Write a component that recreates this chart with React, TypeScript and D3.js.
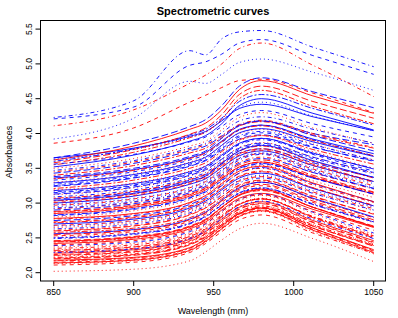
import * as d3 from 'd3';

const wavelengths = [850, 900, 935, 945, 955, 966, 980, 1012, 1050];

const xTicks = [850, 900, 950, 1000, 1050];
const yTicks = [2.0, 2.5, 3.0, 3.5, 4.0, 4.5, 5.0, 5.5];

// absorbance curves, one row per sample
const absorbance: number[][] = [
  [3.65, 3.79, 3.96, 4.03, 4.18, 4.36, 4.42, 4.24, 4.04],
  [4.21, 4.38, 4.98, 5.03, 5.14, 5.30, 5.35, 5.12, 4.85],
  [2.02, 2.05, 2.17, 2.30, 2.47, 2.63, 2.71, 2.49, 2.16],
  [4.23, 4.47, 5.19, 5.13, 5.36, 5.46, 5.48, 5.24, 4.96],
  [3.65, 3.86, 4.10, 4.20, 4.40, 4.68, 4.80, 4.60, 4.37],
  [3.60, 3.78, 3.98, 4.06, 4.22, 4.46, 4.56, 4.36, 4.12],
  [3.62, 3.82, 4.06, 4.15, 4.34, 4.63, 4.76, 4.54, 4.29],
  [3.86, 4.08, 4.45, 4.55, 4.66, 4.76, 4.78, 4.58, 4.30],
  [3.92, 4.22, 4.75, 4.72, 4.85, 5.02, 5.07, 4.88, 4.62],
  [4.11, 4.34, 4.72, 4.84, 5.00, 5.22, 5.30, 4.98, 4.53],
  [3.58, 3.77, 3.99, 4.08, 4.27, 4.56, 4.68, 4.46, 4.22],
  [3.55, 3.73, 3.94, 4.02, 4.20, 4.50, 4.62, 4.39, 4.14],
  [3.52, 3.69, 3.89, 3.97, 4.14, 4.40, 4.50, 4.29, 4.05],
  [3.56, 3.70, 3.88, 3.95, 4.10, 4.27, 4.33, 4.14, 3.95],
  [3.50, 3.64, 3.82, 3.89, 4.05, 4.23, 4.30, 4.08, 3.86],
  [3.47, 3.61, 3.79, 3.86, 4.01, 4.18, 4.24, 4.06, 3.86],
  [3.43, 3.57, 3.75, 3.82, 3.96, 4.12, 4.18, 4.00, 3.84],
  [3.40, 3.54, 3.72, 3.79, 3.94, 4.11, 4.17, 3.98, 3.79],
  [3.36, 3.48, 3.65, 3.73, 3.89, 4.06, 4.12, 3.92, 3.71],
  [3.33, 3.45, 3.62, 3.70, 3.87, 4.05, 4.12, 3.91, 3.68],
  [3.30, 3.42, 3.59, 3.67, 3.83, 4.00, 4.06, 3.85, 3.62],
  [3.27, 3.39, 3.56, 3.64, 3.80, 3.97, 4.03, 3.84, 3.62],
  [3.24, 3.36, 3.53, 3.61, 3.76, 3.92, 3.98, 3.80, 3.61],
  [3.21, 3.33, 3.50, 3.58, 3.74, 3.91, 3.97, 3.77, 3.56],
  [3.18, 3.28, 3.45, 3.53, 3.69, 3.86, 3.93, 3.72, 3.49],
  [3.15, 3.25, 3.42, 3.50, 3.67, 3.85, 3.93, 3.70, 3.46],
  [3.12, 3.22, 3.39, 3.47, 3.63, 3.80, 3.87, 3.66, 3.43],
  [3.09, 3.19, 3.36, 3.44, 3.60, 3.77, 3.84, 3.64, 3.42],
  [3.06, 3.16, 3.33, 3.41, 3.56, 3.72, 3.78, 3.58, 3.37],
  [3.03, 3.13, 3.30, 3.38, 3.54, 3.71, 3.78, 3.56, 3.31],
  [3.00, 3.10, 3.27, 3.35, 3.51, 3.68, 3.75, 3.54, 3.31],
  [2.97, 3.06, 3.22, 3.31, 3.47, 3.64, 3.71, 3.49, 3.25],
  [2.95, 3.04, 3.20, 3.29, 3.46, 3.64, 3.72, 3.48, 3.23],
  [2.92, 3.01, 3.17, 3.26, 3.42, 3.59, 3.66, 3.44, 3.20],
  [2.90, 2.99, 3.15, 3.24, 3.40, 3.57, 3.64, 3.44, 3.21],
  [2.87, 2.96, 3.12, 3.21, 3.36, 3.52, 3.59, 3.38, 3.15],
  [2.85, 2.94, 3.10, 3.19, 3.35, 3.52, 3.59, 3.37, 3.13],
  [2.82, 2.91, 3.07, 3.16, 3.32, 3.49, 3.56, 3.36, 3.13],
  [2.80, 2.89, 3.05, 3.14, 3.30, 3.47, 3.54, 3.32, 3.08],
  [2.77, 2.84, 3.00, 3.10, 3.26, 3.43, 3.50, 3.26, 3.01],
  [2.75, 2.82, 2.98, 3.08, 3.25, 3.43, 3.51, 3.28, 3.02],
  [2.72, 2.79, 2.95, 3.05, 3.21, 3.38, 3.45, 3.22, 2.96],
  [2.70, 2.77, 2.93, 3.03, 3.19, 3.36, 3.43, 3.21, 2.96],
  [2.68, 2.75, 2.91, 3.01, 3.16, 3.32, 3.38, 3.16, 2.92],
  [2.65, 2.72, 2.88, 2.98, 3.14, 3.31, 3.38, 3.15, 2.89],
  [2.63, 2.70, 2.86, 2.96, 3.12, 3.29, 3.36, 3.14, 2.90],
  [2.60, 2.67, 2.83, 2.93, 3.09, 3.26, 3.33, 3.10, 2.84],
  [2.58, 2.64, 2.79, 2.89, 3.06, 3.23, 3.30, 3.06, 2.79],
  [2.56, 2.62, 2.77, 2.87, 3.04, 3.22, 3.30, 3.07, 2.80],
  [2.53, 2.59, 2.74, 2.84, 3.01, 3.18, 3.25, 3.01, 2.74],
  [2.51, 2.57, 2.72, 2.82, 2.98, 3.14, 3.21, 2.98, 2.72],
  [2.49, 2.55, 2.70, 2.80, 2.97, 3.14, 3.21, 2.99, 2.73],
  [2.46, 2.52, 2.67, 2.77, 2.94, 3.11, 3.18, 2.94, 2.67],
  [2.44, 2.50, 2.65, 2.75, 2.93, 3.11, 3.19, 2.94, 2.66],
  [2.42, 2.48, 2.63, 2.73, 2.90, 3.07, 3.14, 2.91, 2.65],
  [2.39, 2.44, 2.59, 2.70, 2.88, 3.05, 3.13, 2.87, 2.57],
  [2.37, 2.42, 2.57, 2.68, 2.86, 3.03, 3.11, 2.85, 2.55],
  [2.35, 2.40, 2.55, 2.66, 2.83, 2.99, 3.06, 2.81, 2.53],
  [2.32, 2.37, 2.52, 2.63, 2.81, 2.98, 3.06, 2.79, 2.50],
  [2.30, 2.35, 2.50, 2.61, 2.80, 2.98, 3.06, 2.80, 2.52],
  [2.28, 2.33, 2.48, 2.59, 2.77, 2.94, 3.02, 2.75, 2.46],
  [2.26, 2.31, 2.46, 2.57, 2.75, 2.92, 3.00, 2.73, 2.44],
  [2.24, 2.29, 2.44, 2.55, 2.72, 2.88, 2.96, 2.69, 2.41],
  [2.22, 2.27, 2.42, 2.53, 2.71, 2.88, 2.96, 2.69, 2.40],
  [2.20, 2.25, 2.40, 2.51, 2.69, 2.86, 2.94, 2.67, 2.38],
  [2.17, 2.21, 2.35, 2.48, 2.66, 2.84, 2.92, 2.64, 2.32],
  [2.14, 2.18, 2.32, 2.45, 2.63, 2.81, 2.89, 2.61, 2.29],
  [2.11, 2.15, 2.29, 2.42, 2.59, 2.76, 2.83, 2.57, 2.28],
  [3.63, 3.77, 3.95, 4.02, 4.19, 4.38, 4.45, 4.25, 4.04],
  [3.45, 3.59, 3.77, 3.84, 3.97, 4.13, 4.19, 4.00, 3.80],
  [3.38, 3.50, 3.67, 3.75, 3.93, 4.11, 4.18, 3.97, 3.75],
  [3.35, 3.47, 3.64, 3.72, 3.88, 4.05, 4.11, 3.90, 3.68],
  [3.29, 3.41, 3.58, 3.66, 3.83, 4.01, 4.07, 3.88, 3.67],
  [3.25, 3.37, 3.54, 3.62, 3.78, 3.95, 4.01, 3.81, 3.60],
  [3.19, 3.29, 3.46, 3.54, 3.71, 3.89, 3.97, 3.74, 3.50],
  [3.16, 3.26, 3.43, 3.51, 3.67, 3.84, 3.91, 3.71, 3.50],
  [3.13, 3.23, 3.40, 3.48, 3.63, 3.79, 3.86, 3.66, 3.44],
  [3.07, 3.17, 3.34, 3.42, 3.58, 3.75, 3.82, 3.60, 3.36],
  [3.04, 3.14, 3.31, 3.39, 3.57, 3.75, 3.83, 3.61, 3.37],
  [3.01, 3.11, 3.28, 3.36, 3.52, 3.69, 3.76, 3.54, 3.30],
  [2.98, 3.07, 3.23, 3.32, 3.48, 3.65, 3.72, 3.51, 3.28],
  [2.93, 3.02, 3.18, 3.27, 3.44, 3.62, 3.70, 3.46, 3.21],
  [2.88, 2.97, 3.13, 3.22, 3.38, 3.55, 3.62, 3.40, 3.16],
  [2.83, 2.92, 3.08, 3.17, 3.33, 3.50, 3.57, 3.36, 3.13],
  [2.78, 2.85, 3.01, 3.11, 3.28, 3.46, 3.53, 3.29, 3.02],
  [2.73, 2.80, 2.96, 3.06, 3.22, 3.39, 3.46, 3.22, 2.97],
  [2.67, 2.74, 2.90, 3.00, 3.16, 3.33, 3.40, 3.18, 2.94],
  [2.61, 2.68, 2.84, 2.94, 3.09, 3.25, 3.32, 3.09, 2.85],
  [2.55, 2.61, 2.76, 2.86, 3.03, 3.20, 3.27, 3.03, 2.76],
  [2.50, 2.56, 2.71, 2.81, 2.98, 3.15, 3.22, 2.98, 2.73],
  [2.45, 2.51, 2.66, 2.76, 2.94, 3.12, 3.20, 2.94, 2.66],
  [2.40, 2.46, 2.61, 2.71, 2.88, 3.05, 3.12, 2.88, 2.61],
  [2.33, 2.38, 2.53, 2.64, 2.82, 2.99, 3.07, 2.80, 2.51],
  [2.29, 2.34, 2.49, 2.60, 2.78, 2.95, 3.03, 2.77, 2.49],
  [2.25, 2.30, 2.45, 2.56, 2.74, 2.91, 2.99, 2.72, 2.43],
  [2.21, 2.26, 2.41, 2.52, 2.69, 2.85, 2.93, 2.67, 2.39],
  [2.18, 2.22, 2.36, 2.49, 2.67, 2.85, 2.93, 2.64, 2.33],
  [2.15, 2.19, 2.33, 2.46, 2.64, 2.82, 2.90, 2.62, 2.31],
  [2.13, 2.17, 2.31, 2.44, 2.62, 2.80, 2.88, 2.59, 2.27],
];

// fat class of each sample (same order as absorbance)
const fatClass = [
  'high', 'high', 'low', 'high', 'high', 'high', 'low', 'low', 'high', 'low',
  'low', 'low', 'high',
  'high', 'low', 'high', 'high', 'low', 'high', 'high', 'low', 'high', 'high',
  'low', 'high', 'high', 'low', 'high', 'high', 'low', 'high', 'low', 'high',
  'low', 'high', 'low', 'low', 'high', 'low', 'low', 'high', 'low', 'high',
  'low', 'low', 'high', 'low', 'low', 'high', 'low', 'low', 'high', 'low',
  'low', 'low', 'high', 'low', 'low', 'low', 'low', 'low', 'low', 'low',
  'low', 'low', 'low', 'low', 'low',
  'high', 'low', 'high', 'low', 'high', 'high', 'low', 'high', 'high', 'low',
  'high', 'low', 'high', 'high', 'low', 'high', 'low', 'low', 'high', 'low',
  'low', 'high', 'low', 'low', 'low', 'high', 'low', 'low', 'low', 'low',
  'low',
];

const W = 398;
const H = 318;
const font = 'Liberation Sans, Arial, Helvetica, sans-serif';

// R style line types: solid, dashed, dotted, dotdash, longdash, twodash
const dashes = ['none', '4,4', '1,3', '1,3,4,3', '7,3', '2,2,6,2'];

const App = () => {
  const x = d3.scaleLinear().domain([850, 1050]).range([53.7, 373.7]);
  const y = d3.scaleLinear().domain([2, 5.5]).range([272.7, 29.1]);
  const frame = { left: 40.5, right: 385.5, top: 20.5, bottom: 281 };

  const line = d3
    .line<number>()
    .x((_, i) => x(wavelengths[i]))
    .y((d) => y(d))
    .curve(d3.curveMonotoneX);

  const color = d3.scaleOrdinal<string, string>().domain(['low', 'high']).range(['#FF0000', '#0000FF']);

  return (
    <div style={{ position: 'absolute', left: 0, top: 0 }}>
      <svg width={W} height={H} style={{ display: 'block', background: '#fff' }}>
        <defs>
          <clipPath id="plot-clip">
            <rect x={frame.left} y={frame.top} width={frame.right - frame.left} height={frame.bottom - frame.top} />
          </clipPath>
        </defs>

        <g clipPath="url(#plot-clip)">
          {absorbance.map((curve, i) => (
            <path
              key={i}
              d={line(curve) || ''}
              fill="none"
              stroke={color(fatClass[i])}
              strokeWidth={0.9}
              strokeDasharray={dashes[i % dashes.length]}
            />
          ))}
        </g>

        <rect
          x={frame.left}
          y={frame.top}
          width={frame.right - frame.left}
          height={frame.bottom - frame.top}
          fill="none"
          stroke="#000"
          strokeWidth={1}
        />

        {/* x axis */}
        {xTicks.map((t) => (
          <g key={t}>
            <line x1={x(t)} x2={x(t)} y1={frame.bottom} y2={frame.bottom + 5} stroke="#000" />
            <text x={x(t)} y={frame.bottom + 14} fontSize={8.5} fontFamily={font} textAnchor="middle">
              {t}
            </text>
          </g>
        ))}

        {/* y axis */}
        {yTicks.map((t) => (
          <g key={t}>
            <line x1={frame.left - 5} x2={frame.left} y1={y(t)} y2={y(t)} stroke="#000" />
            <text
              transform={`translate(${frame.left - 9},${y(t)}) rotate(-90)`}
              fontSize={8.5}
              fontFamily={font}
              textAnchor="middle"
            >
              {t.toFixed(1)}
            </text>
          </g>
        ))}

        <text x={213} y={15} fontSize={11} fontWeight="bold" fontFamily={font} textAnchor="middle">
          Spectrometric curves
        </text>
        <text x={213} y={314} fontSize={9} fontFamily={font} textAnchor="middle">
          Wavelength (mm)
        </text>
        <text transform="translate(12,152) rotate(-90)" fontSize={9} fontFamily={font} textAnchor="middle">
          Absorbances
        </text>
      </svg>
    </div>
  );
};

export default App;
